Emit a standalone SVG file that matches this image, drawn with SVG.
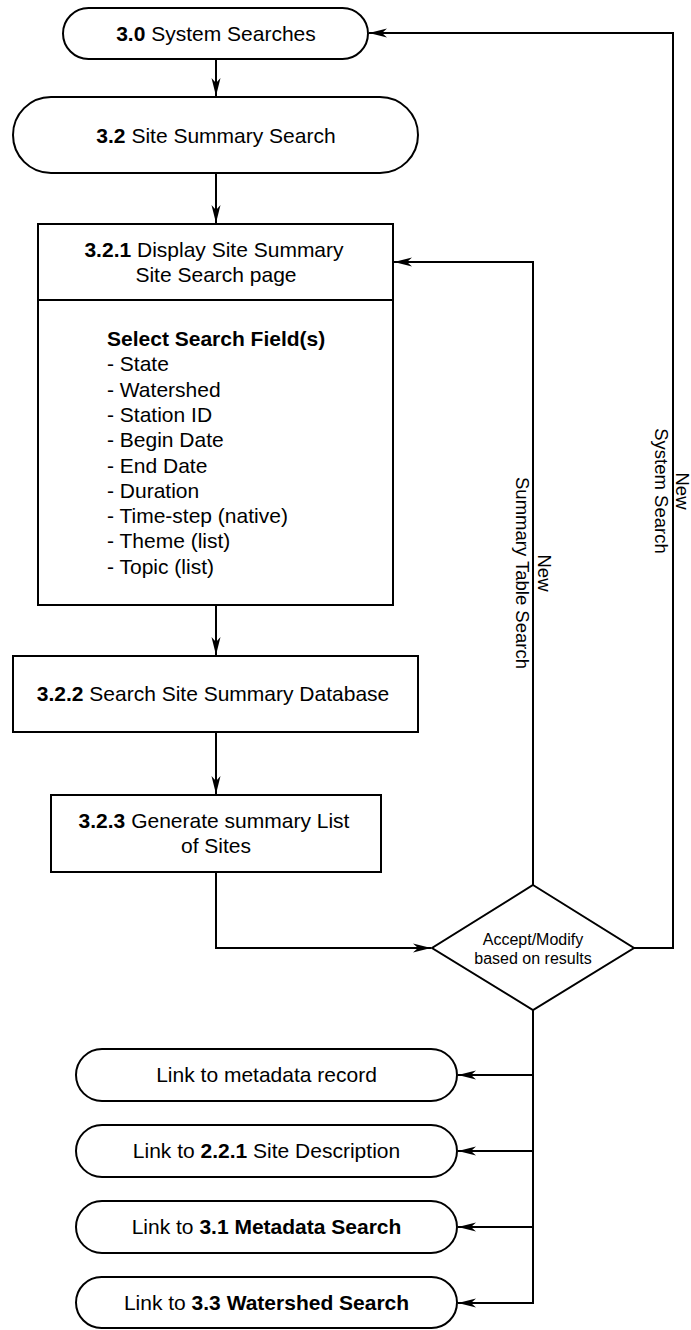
<svg xmlns="http://www.w3.org/2000/svg" width="691" height="1330" viewBox="0 0 691 1330">
<style>
.shape{fill:#fff;stroke:#000;stroke-width:2}
.conn{fill:none;stroke:#000;stroke-width:2}
text{font-family:"Liberation Sans",Arial,Helvetica,sans-serif;fill:#000}
.t{font-size:21px;text-anchor:middle}
.l{font-size:21px}
.d{font-size:16px;text-anchor:middle}
.v{font-size:18.5px;text-anchor:middle}
.b{font-weight:bold}
</style>
<defs>
<marker id="ah" viewBox="-20 -6 21 12" markerWidth="21" markerHeight="12" refX="0" refY="0" orient="auto" markerUnits="userSpaceOnUse">
<path d="M0,0 L-18,-4.5 L-13,0 L-18,4.5 Z" fill="#000"/>
</marker>
</defs>
<rect width="691" height="1330" fill="#fff"/>
<g id="connectors">
<path class="conn" d="M216,59 V96" marker-end="url(#ah)"/>
<path class="conn" d="M216,173 V223" marker-end="url(#ah)"/>
<path class="conn" d="M216,605 V655" marker-end="url(#ah)"/>
<path class="conn" d="M216,732 V794" marker-end="url(#ah)"/>
<path class="conn" d="M216,872 V948 H431" marker-end="url(#ah)"/>
<path class="conn" d="M533,885 V262 H394" marker-end="url(#ah)"/>
<path class="conn" d="M634,948 H673 V33 H369" marker-end="url(#ah)"/>
<path class="conn" d="M533,1010 V1303 H458" marker-end="url(#ah)"/>
<path class="conn" d="M533,1075 H458" marker-end="url(#ah)"/>
<path class="conn" d="M533,1151 H458" marker-end="url(#ah)"/>
<path class="conn" d="M533,1227 H458" marker-end="url(#ah)"/>
<g transform="translate(671,491) rotate(90)"><text class="v" x="0" y="-5">New</text><text class="v" x="0" y="16">System Search</text></g>
<g transform="translate(532,573) rotate(90)"><text class="v" x="0" y="-6">New</text><text class="v" x="0" y="16">Summary Table Search</text></g>
</g>
<g id="n30">
<rect class="shape" x="63" y="8" width="305" height="51" rx="25.5"/>
<text class="t" x="216" y="40.5"><tspan class="b">3.0</tspan> System Searches</text>
</g>
<g id="n32">
<rect class="shape" x="13" y="97" width="405" height="76" rx="38"/>
<text class="t" x="216" y="142.5"><tspan class="b">3.2</tspan> Site Summary Search</text>
</g>
<g id="n321">
<rect class="shape" x="38" y="224" width="355" height="381"/>
<line class="conn" x1="38" y1="300" x2="393" y2="300"/>
<text class="t" x="214" y="257"><tspan class="b">3.2.1</tspan> Display Site Summary</text>
<text class="t" x="216" y="281.5">Site Search page</text>
<text class="l b" x="107" y="346">Select Search Field(s)</text>
<text class="l" x="107" y="371.3">- State</text>
<text class="l" x="107" y="396.6">- Watershed</text>
<text class="l" x="107" y="421.9">- Station ID</text>
<text class="l" x="107" y="447.2">- Begin Date</text>
<text class="l" x="107" y="472.5">- End Date</text>
<text class="l" x="107" y="497.8">- Duration</text>
<text class="l" x="107" y="523.1">- Time-step (native)</text>
<text class="l" x="107" y="548.4">- Theme (list)</text>
<text class="l" x="107" y="573.7">- Topic (list)</text>
</g>
<g id="n322">
<rect class="shape" x="13" y="656" width="405" height="76"/>
<text class="t" x="213" y="701"><tspan class="b">3.2.2</tspan> Search Site Summary Database</text>
</g>
<g id="n323">
<rect class="shape" x="51" y="795" width="330" height="77"/>
<text class="t" x="214" y="828"><tspan class="b">3.2.3</tspan> Generate summary List</text>
<text class="t" x="216" y="853">of Sites</text>
</g>
<g id="decision">
<polygon class="shape" points="533,885 634,948 533,1010 432,948"/>
<text class="d" x="533" y="945">Accept/Modify</text>
<text class="d" x="533" y="964">based on results</text>
</g>
<g id="link1">
<rect class="shape" x="76" y="1049" width="381" height="52" rx="26"/>
<text class="t" x="266.5" y="1082">Link to metadata record</text>
</g>
<g id="link2">
<rect class="shape" x="76" y="1125" width="381" height="52" rx="26"/>
<text class="t" x="266.5" y="1158">Link to <tspan class="b">2.2.1</tspan> Site Description</text>
</g>
<g id="link3">
<rect class="shape" x="76" y="1201" width="381" height="52" rx="26"/>
<text class="t" x="266.5" y="1234">Link to <tspan class="b">3.1 Metadata Search</tspan></text>
</g>
<g id="link4">
<rect class="shape" x="76" y="1277" width="381" height="51" rx="25.5"/>
<text class="t" x="266.5" y="1310">Link to <tspan class="b">3.3 Watershed Search</tspan></text>
</g>
</svg>
